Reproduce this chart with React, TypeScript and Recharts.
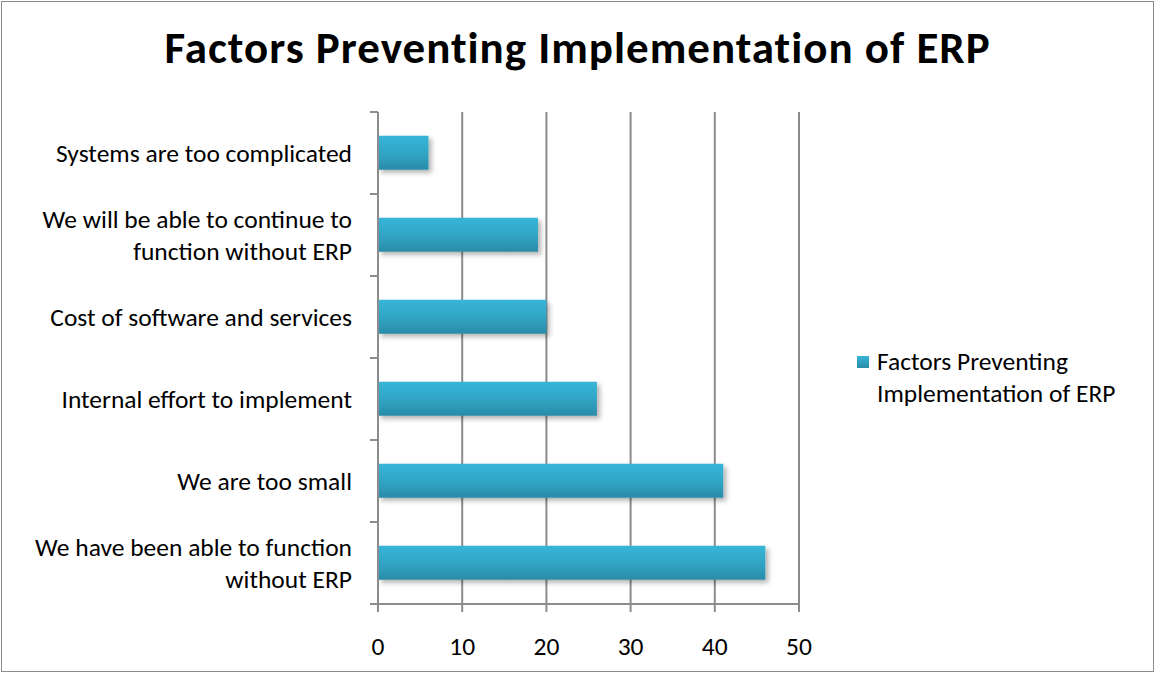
import React from 'react'
import { Bar, BarChart, CartesianGrid, Legend, Text, XAxis, YAxis } from 'recharts'

const categories = [
  'Systems are too complicated',
  'We will be able to continue to function without ERP',
  'Cost of software and services',
  'Internal effort to implement',
  'We are too small',
  'We have been able to function without ERP',
]
const values = [6, 19, 20, 26, 41, 46]
const xTicks = [0, 10, 20, 30, 40, 50]
const seriesName = 'Factors Preventing Implementation of ERP'
const title = 'Factors Preventing Implementation of ERP'

const data = categories.map((name, i) => ({ name, value: values[i] }))

const FONT = 'Carlito, Calibri, Lato, sans-serif'
const W = 1155
const H = 673
const margin = { top: 112, right: 356, bottom: 9, left: 0 }
const xAxisHeight = 60
const band = (H - margin.top - margin.bottom - xAxisHeight) / categories.length

function wrap(label: string, max = 30) {
  const lines: string[] = []
  let cur = ''
  for (const w of label.split(' ')) {
    const next = cur ? cur + ' ' + w : w
    if (next.length > max && cur) {
      lines.push(cur)
      cur = w
    } else cur = next
  }
  if (cur) lines.push(cur)
  return lines
}

function CategoryTick(props: any) {
  const { x, y, payload, index } = props
  const lines = wrap(payload.value)
  const axisX = x + 26
  const lineH = 32
  const startY = y - ((lines.length - 1) * lineH) / 2
  return (
    <g>
      <line x1={axisX - 8} x2={axisX} y1={y - band / 2} y2={y - band / 2} stroke="#8c8c8c" strokeWidth={2} />
      {index === categories.length - 1 && (
        <line x1={axisX - 8} x2={axisX} y1={y + band / 2} y2={y + band / 2} stroke="#8c8c8c" strokeWidth={2} />
      )}
      {lines.map((l, i) => (
        <Text key={i} x={x} y={startY + i * lineH} textAnchor="end" verticalAnchor="middle" fontSize={25.5} fontFamily={FONT} fill="#000">
          {l}
        </Text>
      ))}
    </g>
  )
}

function LegendContent() {
  return (
    <div style={{ position: 'relative', fontFamily: FONT, fontSize: 25.5, lineHeight: '32px', color: '#000', whiteSpace: 'nowrap' }}>
      <span
        style={{
          position: 'absolute',
          left: 0,
          top: 10,
          width: 12,
          height: 12,
          background: 'linear-gradient(#37b5d8, #2a8ca8)',
        }}
      />
      <div style={{ paddingLeft: 20 }}>
        Factors Preventing
        <br />
        Implementation of ERP
      </div>
    </div>
  )
}

export default function App() {
  return (
    <div style={{ position: 'absolute', left: 0, top: 0, width: W, height: H, background: '#fff' }}>
      <div
        style={{
          position: 'absolute',
          left: 1,
          top: 1,
          width: W - 4,
          height: H - 4,
          border: '1px solid #8c8c8c',
          pointerEvents: 'none',
        }}
      />
      <div
        style={{
          position: 'absolute',
          left: 0,
          top: 18,
          width: W,
          textAlign: 'center',
          fontFamily: FONT,
          fontWeight: 'bold',
          fontSize: 45,
          letterSpacing: 1,
          lineHeight: '60px',
          color: '#000',
        }}
      >
        {title}
      </div>
      <BarChart width={W} height={H} data={data} layout="vertical" margin={margin} barCategoryGap="29%">
        <defs>
          <linearGradient id="barFill" x1="0" y1="0" x2="0" y2="1">
            <stop offset="0%" stopColor="#37b5d8" />
            <stop offset="50%" stopColor="#31a6c6" />
            <stop offset="100%" stopColor="#2a8ba7" />
          </linearGradient>
          <filter id="shadow" x="-10%" y="-30%" width="130%" height="180%">
            <feDropShadow dx="3" dy="3" stdDeviation="2.5" floodColor="#000" floodOpacity="0.3" />
          </filter>
        </defs>
        <CartesianGrid horizontal={false} stroke="#8c8c8c" strokeWidth={2} />
        <XAxis
          type="number"
          domain={[0, 50]}
          ticks={xTicks}
          height={xAxisHeight}
          tickSize={8}
          tickMargin={25}
          stroke="#8c8c8c"
          strokeWidth={2}
          tick={{ fill: '#000', fontSize: 25.5, fontFamily: FONT }}
        />
        <YAxis
          type="category"
          dataKey="name"
          width={378}
          tickLine={false}
          tickSize={8}
          tickMargin={18}
          stroke="#8c8c8c"
          strokeWidth={2}
          interval={0}
          tick={<CategoryTick />}
        />
        <Legend
          content={<LegendContent />}
          wrapperStyle={{ position: 'absolute', left: 857, top: 346, width: 290, height: 0, overflow: 'visible' }}
        />
        <Bar dataKey="value" name={seriesName} fill="url(#barFill)" filter="url(#shadow)" isAnimationActive={false} />
      </BarChart>
    </div>
  )
}
